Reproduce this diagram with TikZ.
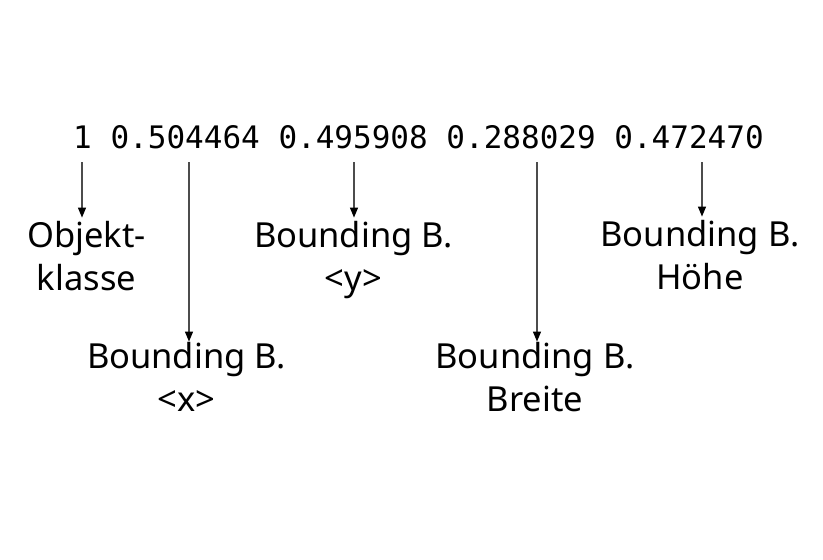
\documentclass[tikz,border=0pt]{standalone}
\usepackage{fontspec}
\setmainfont{Noto Sans}
\setmonofont{DejaVu Sans Mono}
\usetikzlibrary{arrows.meta}
\tikzset{
  lbl/.style={font=\fontsize{34.5}{43}\selectfont, align=center, anchor=base, inner xsep=0pt, inner ysep=3pt},
  lowlbl/.style={lbl, inner ysep=0pt},
  nums/.style={font=\ttfamily\fontsize{31}{37}\selectfont, anchor=base, inner sep=0pt},
  pointer/.style={draw=black!70, line width=1.2pt, -{Triangle[black, length=10pt, width=8pt]}}
}
\begin{document}
\begin{tikzpicture}[x=1pt,y=-1pt]
\useasboundingbox[fill=white] (0,0) rectangle (823,560);
\node[nums] (line) at (418.5,148) {1 0.504464 0.495908 0.288029 0.472470};
\coordinate (c1) at (82,162);
\coordinate (c2) at (189,162);
\coordinate (c3) at (354,162);
\coordinate (c4) at (537,162);
\coordinate (c5) at (702,162);
\node[lbl] (l1) at (86.5,290) {Objekt-\\klasse};
\node[lowlbl] (l2) at (186.5,411) {Bounding B.\\<x>};
\node[lbl] (l3) at (353.5,290) {Bounding B.\\<y>};
\node[lowlbl] (l4) at (535,411) {Bounding B.\\Breite};
\node[lbl] (l5) at (700,289) {Bounding B.\\Höhe};
\draw[pointer] (c1) -- (c1 |- l1.north);
\draw[pointer] (c2) -- (c2 |- l2.north);
\draw[pointer] (c3) -- (c3 |- l3.north);
\draw[pointer] (c4) -- (c4 |- l4.north);
\draw[pointer] (c5) -- (c5 |- l5.north);
\end{tikzpicture}
\end{document}
